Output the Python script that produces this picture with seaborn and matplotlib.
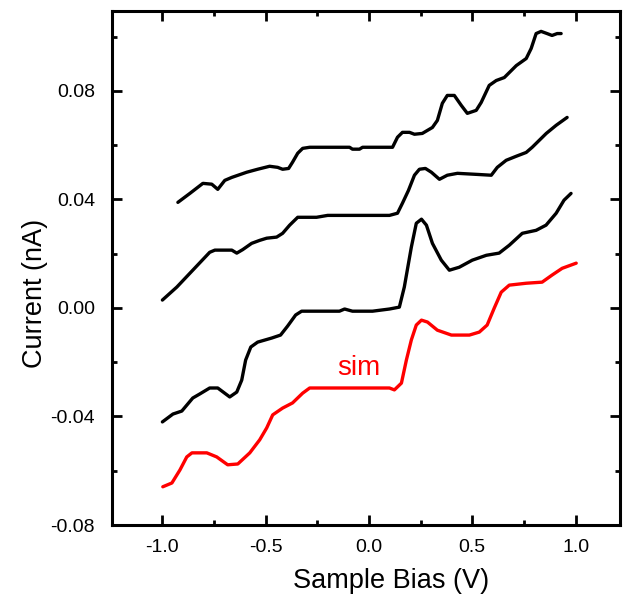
import numpy as np
import pandas as pd
import matplotlib
matplotlib.use('Agg')
import matplotlib.pyplot as plt
import seaborn as sns
from matplotlib.ticker import MultipleLocator, FormatStrFormatter

# Top black trace
bias_top = [-0.925, -0.867, -0.804, -0.761, -0.732, -0.698, -0.664, -0.592, -0.539, -0.481,
            -0.442, -0.418, -0.389, -0.370, -0.345, -0.321, -0.287, -0.094, -0.080, -0.046,
            -0.031, 0.114, 0.138, 0.162, 0.196, 0.220, 0.258, 0.307, 0.331, 0.355,
            0.379, 0.413, 0.447, 0.476, 0.519, 0.543, 0.582, 0.616, 0.655, 0.713,
            0.761, 0.785, 0.809, 0.833, 0.862, 0.886, 0.911, 0.930]
current_top = [0.0389, 0.0422, 0.0459, 0.0456, 0.0437, 0.0470, 0.0481, 0.0500, 0.0511, 0.0522,
               0.0518, 0.0511, 0.0514, 0.0537, 0.0570, 0.0588, 0.0592, 0.0592, 0.0585, 0.0585,
               0.0592, 0.0592, 0.0629, 0.0647, 0.0647, 0.0640, 0.0643, 0.0665, 0.0691, 0.0754,
               0.0783, 0.0783, 0.0746, 0.0717, 0.0728, 0.0757, 0.0820, 0.0838, 0.0849, 0.0893,
               0.0919, 0.0956, 0.1011, 0.1019, 0.1011, 0.1004, 0.1011, 0.1011]

# Middle black trace
bias_mid = [-1.000, -0.930, -0.853, -0.771, -0.746, -0.664, -0.640, -0.611, -0.568, -0.529,
            -0.495, -0.447, -0.418, -0.384, -0.345, -0.254, -0.200, 0.099, 0.138, 0.162,
            0.191, 0.220, 0.244, 0.273, 0.302, 0.341, 0.379, 0.428, 0.524, 0.592,
            0.621, 0.664, 0.713, 0.761, 0.790, 0.858, 0.906, 0.959]
current_mid = [0.0029, 0.0077, 0.0139, 0.0205, 0.0213, 0.0213, 0.0202, 0.0215, 0.0238, 0.0249,
               0.0257, 0.0261, 0.0275, 0.0305, 0.0334, 0.0334, 0.0341, 0.0341, 0.0349, 0.0386,
               0.0433, 0.0489, 0.0511, 0.0514, 0.0500, 0.0474, 0.0489, 0.0496, 0.0492, 0.0489,
               0.0518, 0.0544, 0.0559, 0.0573, 0.0592, 0.0643, 0.0673, 0.0702]

# Lower black trace
bias_low = [-1.000, -0.949, -0.906, -0.853, -0.819, -0.771, -0.732, -0.674, -0.640, -0.616,
            -0.597, -0.572, -0.539, -0.471, -0.428, -0.394, -0.355, -0.326, -0.143, -0.118,
            -0.080, 0.017, 0.099, 0.147, 0.171, 0.205, 0.229, 0.254, 0.278, 0.307,
            0.350, 0.389, 0.437, 0.500, 0.568, 0.630, 0.679, 0.742, 0.809, 0.857,
            0.906, 0.944, 0.978]
current_low = [-0.0420, -0.0391, -0.0380, -0.0332, -0.0317, -0.0295, -0.0295, -0.0328, -0.0310, -0.0266,
               -0.0192, -0.0144, -0.0126, -0.0111, -0.0100, -0.0067, -0.0026, -0.0012, -0.0012, -0.0004,
               -0.0012, -0.0012, -0.0004, 0.0003, 0.0077, 0.0224, 0.0312, 0.0327, 0.0305, 0.0238,
               0.0176, 0.0139, 0.0150, 0.0176, 0.0194, 0.0202, 0.0231, 0.0275, 0.0286, 0.0305,
               0.0349, 0.0397, 0.0422]

# Simulated trace (red)
bias_sim = [-0.998, -0.954, -0.915, -0.882, -0.857, -0.785, -0.737, -0.684, -0.635, -0.577,
            -0.529, -0.495, -0.466, -0.418, -0.370, -0.321, -0.287, 0.099, 0.123, 0.157,
            0.181, 0.205, 0.229, 0.254, 0.283, 0.331, 0.399, 0.486, 0.534, 0.572,
            0.606, 0.640, 0.679, 0.761, 0.838, 0.886, 0.935, 1.003]
current_sim = [-0.0659, -0.0645, -0.0597, -0.0549, -0.0534, -0.0534, -0.0549, -0.0578, -0.0575, -0.0534,
               -0.0486, -0.0442, -0.0394, -0.0369, -0.0350, -0.0314, -0.0295, -0.0295, -0.0302, -0.0277,
               -0.0192, -0.0118, -0.0063, -0.0045, -0.0052, -0.0082, -0.0100, -0.0100, -0.0089, -0.0063,
               -0.0001, 0.0058, 0.0084, 0.0091, 0.0095, 0.0121, 0.0146, 0.0165]

sns.set_style('ticks')
plt.rcParams['font.family'] = ['Liberation Sans', 'DejaVu Sans']
plt.rcParams['axes.unicode_minus'] = False
plt.rcParams.update({'text.color': 'black', 'axes.labelcolor': 'black',
                     'axes.edgecolor': 'black', 'xtick.color': 'black',
                     'ytick.color': 'black'})

fig = plt.figure(figsize=(6.29, 5.98), dpi=100)
ax = fig.add_axes([0.1777, 0.122, 0.808, 0.860])

traces = [(bias_top, current_top, 'black'),
          (bias_mid, current_mid, 'black'),
          (bias_low, current_low, 'black'),
          (bias_sim, current_sim, 'red')]
for bias, current, color in traces:
    df = pd.DataFrame({'bias': bias, 'current': current})
    sns.lineplot(data=df, x='bias', y='current', ax=ax, color=color,
                 linewidth=2.4, sort=False, estimator=None)

ax.text(-0.05, -0.0222, 'sim', color='red', fontsize=20, ha='center', va='center')

ax.set_xlim(-1.245, 1.215)
ax.set_ylim(-0.08, 0.1095)
ax.xaxis.set_major_locator(MultipleLocator(0.5))
ax.xaxis.set_minor_locator(MultipleLocator(0.25))
ax.yaxis.set_major_locator(MultipleLocator(0.04))
ax.yaxis.set_minor_locator(MultipleLocator(0.02))
ax.xaxis.set_major_formatter(FormatStrFormatter('%.1f'))
ax.yaxis.set_major_formatter(FormatStrFormatter('%.2f'))

ax.tick_params(which='both', direction='in', top=True, right=True, width=2.0, color='black')
ax.tick_params(which='major', length=7, labelsize=14)
ax.tick_params(axis='x', which='major', pad=10)
ax.tick_params(axis='y', which='major', pad=12)
ax.tick_params(which='minor', length=3.5)
for sp in ax.spines.values():
    sp.set_linewidth(2.2)
    sp.set_color('black')

ax.set_xlabel('Sample Bias (V)', fontsize=19.5)
ax.set_ylabel('Current (nA)', fontsize=19.5)
ax.xaxis.set_label_coords(0.55, -0.083)
ax.yaxis.set_label_coords(-0.125, 0.45)

fig.savefig('out.png', dpi=100)
